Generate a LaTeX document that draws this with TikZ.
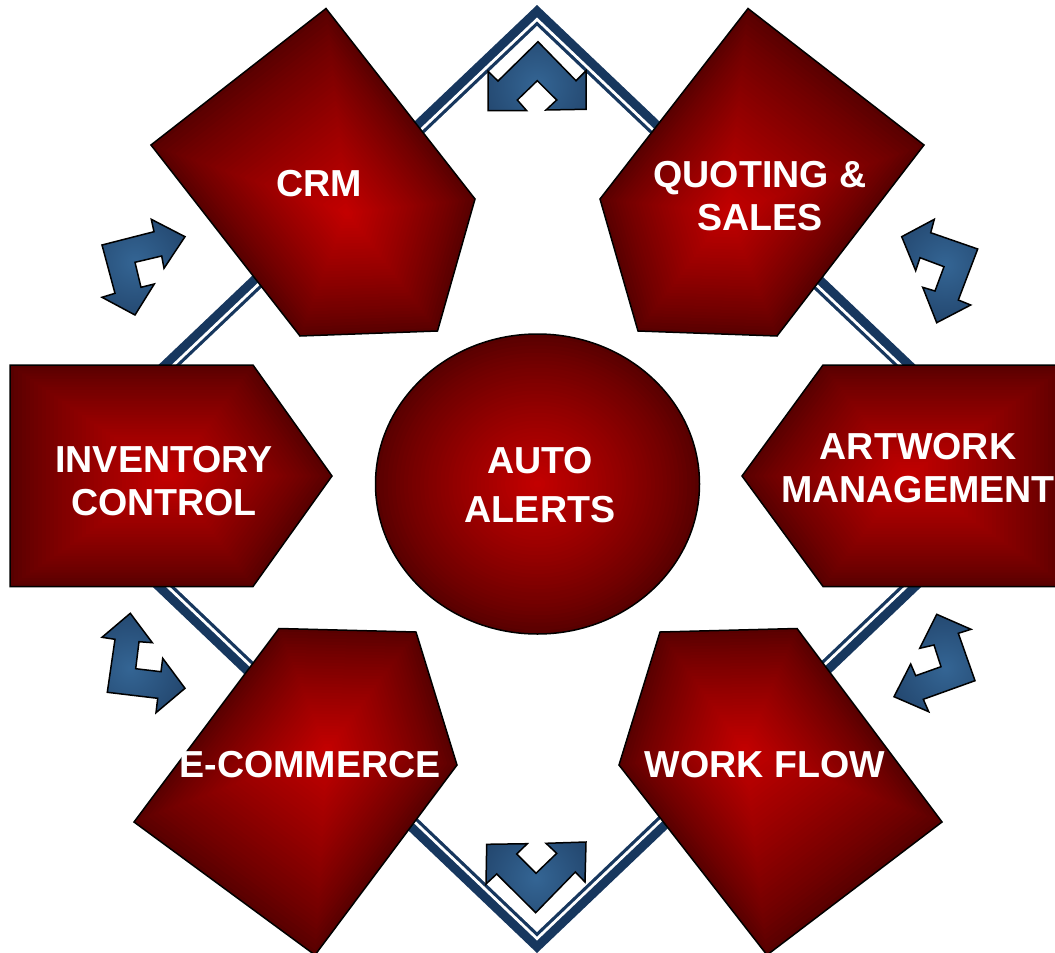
\documentclass[tikz,border=0pt]{standalone}
\usepackage{fontspec}
\setmainfont{Liberation Sans}
\definecolor{redlo}{HTML}{580000}
\definecolor{redhi}{HTML}{C20000}
\definecolor{bluelo}{HTML}{21436A}
\definecolor{bluehi}{HTML}{346594}
\definecolor{navy}{HTML}{17375E}
\tikzset{
  label text/.style={text=white,font=\fontsize{37.6}{43}\selectfont\bfseries,align=center,inner sep=0pt},
  outline/.style={draw=black,line width=1.5pt,line join=miter},
  arrow outline/.style={draw=black,line width=1.5pt,line join=miter}
}
% #1 lo colour, #2 hi colour, #3 centre x, #4 centre y, #5 outline style, #6 path
\newcommand\gradpoly[6]{%
  \begin{scope}
    \clip #6;
    \foreach \i in {0,...,39}{%
      \pgfmathsetmacro\sc{1-\i/40}%
      \pgfmathsetmacro\pc{100*(\i/39)^0.85}%
      \fill[#2!\pc!#1,shift={(#3,#4)},scale=\sc,shift={(-#3,-#4)}] #6;
    }
  \end{scope}
  \draw[#5] #6;
}
\newcommand\rim[2]{%
  \fill[#1] (537,5+#2) -- (1035-#2/0.95,478.5) -- (537,953-#2) -- (39+#2/0.95,478.5) -- cycle;
}
\newcommand\bluearrow[3]{%
  \begin{scope}
    \clip #3;
    \shade[inner color=bluehi,outer color=bluelo] (#1,#2) circle (66);
  \end{scope}
  \draw[arrow outline] #3;
}
\begin{document}
\begin{tikzpicture}[x=1pt,y=-1pt]
\useasboundingbox (0,0) rectangle (1055,953);
\clip (0,0) rectangle (1055,953);
\fill[white] (0,0) rectangle (1055,953);
% double-line diamond
\rim{navy}{0}
\rim{white}{12.5}
\rim{navy}{16.5}
\rim{white}{21}
% red shapes
\gradpoly{redlo}{redhi}{347}{213}{outline}{(326,8.5) -- (475,199) -- (437.5,331) -- (300,336) -- (151,145) -- cycle}
\gradpoly{redlo}{redhi}{728}{213}{outline}{(748,8.5) -- (924,145) -- (777,336) -- (638,331) -- (600,199) -- cycle}
\gradpoly{redlo}{redhi}{170}{476}{outline}{(10,365) -- (253,365) -- (332,476) -- (253,586.5) -- (10,586.5) -- cycle}
\gradpoly{redlo}{redhi}{908}{476}{outline}{(742,476) -- (823,365) -- (1068,365) -- (1068,586.5) -- (823,586.5) -- cycle}
\gradpoly{redlo}{redhi}{327}{750}{outline}{(279,628.5) -- (416,632) -- (457,765) -- (315,955) -- (134,822) -- cycle}
\gradpoly{redlo}{redhi}{745}{750}{outline}{(660,632) -- (797,628.5) -- (942,822) -- (767,955) -- (619,765) -- cycle}
\gradpoly{redlo}{redhi}{537.5}{484}{outline}{(537.5,484) ellipse [x radius=162,y radius=150]}
% blue arrows
\bluearrow{537}{85}{(538,41.7) -- (576,80.7) -- (586,70.7) -- (586,109.3) -- (546,110) -- (556.7,100) -- (537.3,80.7) -- (517.3,100) -- (526.7,110.7) -- (488,110.7) -- (488,71.3) -- (498,81) -- cycle}
\bluearrow{536}{878}{(535.7,912.7) -- (496.7,874) -- (486,884) -- (486.7,844.3) -- (527.3,843.7) -- (516.7,854) -- (536,873.3) -- (556.7,853.3) -- (546,843.3) -- (586,842) -- (585,882) -- (575.3,872) -- cycle}
\bluearrow{135}{262}{(185,236.7) -- (164,268.3) -- (161.7,256) -- (135,262.3) -- (141,287.3) -- (154.3,284) -- (135,315) -- (102,297.3) -- (115,293.3) -- (102,245) -- (154,231.7) -- (151.3,219.3) -- cycle}
\bluearrow{945}{265}{(901.7,236.7) -- (934.3,219.3) -- (930.7,232.7) -- (977.7,249) -- (958.3,300) -- (970.7,305) -- (936.7,322.7) -- (922.7,287.3) -- (935,291) -- (944,266.7) -- (920,257.7) -- (915.7,270.7) -- cycle}
\bluearrow{130}{668}{(130.3,613.3) -- (152.3,642.7) -- (139,641.7) -- (135.7,668.7) -- (161,671.7) -- (162.7,658.3) -- (185,688.3) -- (156,712.7) -- (157.7,698.3) -- (107.3,692.3) -- (115,639.3) -- (102,637.3) -- cycle}
\bluearrow{945}{668}{(936.7,614.3) -- (971,629.3) -- (958.3,633.3) -- (975,680.7) -- (923.3,699.3) -- (928.7,711.7) -- (894,696.7) -- (910.7,664) -- (915.7,675.7) -- (941,666.7) -- (934,645) -- (919.7,648.3) -- cycle}
% labels
\node[label text] (crm) at (319,184) {CRM};
\node[label text] (quoting) at (760,196) {QUOTING \&\\SALES};
\node[label text] (inventory) at (164,481) {INVENTORY\\CONTROL};
\node[label text,font=\fontsize{37.6}{49}\selectfont\bfseries] (alerts) at (540,485) {AUTO\\ALERTS};
\node[label text] (artwork) at (918,468) {ARTWORK\\MANAGEMENT};
\node[label text] (ecommerce) at (310,765) {E-COMMERCE};
\node[label text] (workflow) at (765,765) {WORK FLOW};
\end{tikzpicture}
\end{document}
